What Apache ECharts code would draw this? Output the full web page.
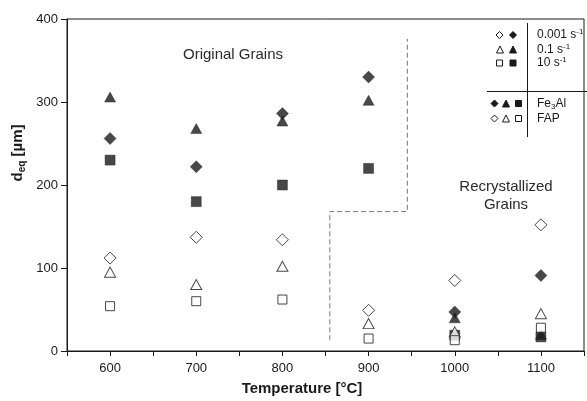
<!DOCTYPE html>
<html>
<head>
<meta charset="utf-8">
<script src="https://cdn.jsdelivr.net/npm/echarts@6/dist/echarts.min.js"></script>
<style>html,body{margin:0;padding:0;background:#fff;}#c{width:587px;height:401px;}</style>
</head>
<body>
<div id="c"></div>
<script>
// ---- data ----
const temps = [600, 700, 800, 900, 1000, 1100];
const fe3al_0001 = [256, 222, 286, 330, 47, 91];   // filled diamond
const fe3al_01   = [306, 268, 277, 302, 40, 20];   // filled triangle
const fe3al_10   = [230, 180, 200, 220, 19, 17];   // filled square
const fap_0001   = [112, 137, 134, 49, 85, 152];   // open diamond
const fap_01     = [95, 80, 102, 33, 23, 45];      // open triangle
const fap_10     = [54, 60, 62, 15, 13, 28];       // open square
const boundaryT  = [855, 855, 945, 945];
const boundaryD  = [13, 168, 168, 376];
const xTicks = [600, 700, 800, 900, 1000, 1100];
const yTicks = [0, 100, 200, 300, 400];

const FONT = 'Liberation Sans, Arial, sans-serif';
const INK = '#1a1a1a';

function pts(arr) { return temps.map((t, i) => [t, arr[i]]); }
function sc(name, data, symbol, size, filled) {
  return {
    name, type: 'scatter', data: pts(data), symbol, symbolSize: size,
    itemStyle: filled ? { color: INK, borderColor: INK, borderWidth: 0.5 }
                      : { color: '#fff', borderColor: INK, borderWidth: 1 },
    z: filled ? 3 : 4, silent: true
  };
}

// legend symbol helpers (key only)
function gDia(cx, cy, s, f) {
  return { type: 'polygon', shape: { points: [[cx, cy - s / 2], [cx + s / 2, cy], [cx, cy + s / 2], [cx - s / 2, cy]] },
    style: { fill: f ? INK : '#fff', stroke: INK, lineWidth: 1 } };
}
function gTri(cx, cy, s, f) {
  return { type: 'polygon', shape: { points: [[cx, cy - s / 2], [cx + s / 2, cy + s / 2], [cx - s / 2, cy + s / 2]] },
    style: { fill: f ? INK : '#fff', stroke: INK, lineWidth: 1 } };
}
function gSq(cx, cy, s, f) {
  return { type: 'rect', shape: { x: cx - s / 2, y: cy - s / 2, width: s, height: s },
    style: { fill: f ? INK : '#fff', stroke: INK, lineWidth: 1 } };
}
function gTxt(x, y, text, rich, extra) {
  return Object.assign({ type: 'text', x, y, style: Object.assign({ text, font: '12px ' + FONT, fill: INK,
    textVerticalAlign: 'middle', textAlign: 'left', rich: rich || {} }, extra || {}) }, {});
}
const supRich = { n: { fontSize: 12, fontFamily: FONT, fill: INK }, sup: { fontSize: 8, fontFamily: FONT, fill: INK, verticalAlign: 'top', padding: [0, 0, 6, 0] }, sub: { fontSize: 8, fontFamily: FONT, fill: INK, padding: [6, 0, 0, 0] } };

const chart = echarts.init(document.getElementById('c'), null, { renderer: 'canvas' });
chart.setOption({
  animation: false,
  backgroundColor: '#fff',
  grid: { left: 67, right: -3, top: 19, bottom: 50, show: true, borderColor: INK, borderWidth: 1, backgroundColor: 'transparent' },
  xAxis: {
    type: 'value', min: 550, max: 1150, interval: 50,
    axisLine: { lineStyle: { color: INK, width: 1 } },
    axisTick: { length: 5, lineStyle: { color: INK } },
    axisLabel: { color: INK, fontFamily: FONT, fontSize: 13, margin: 11,
      formatter: v => xTicks.indexOf(v) >= 0 ? String(v) : '' },
    splitLine: { show: false }
  },
  yAxis: {
    type: 'value', min: 0, max: 400, interval: 100,
    axisLine: { show: true, lineStyle: { color: INK, width: 1 } },
    axisTick: { show: true, length: 6, lineStyle: { color: INK } },
    axisLabel: { color: INK, fontFamily: FONT, fontSize: 13, margin: 9,
      formatter: v => yTicks.indexOf(v) >= 0 ? String(v) : '' },
    splitLine: { show: false }
  },
  series: [
    { type: 'line', data: boundaryT.map((t, i) => [t, boundaryD[i]]), symbol: 'none', silent: true,
      lineStyle: { color: '#777', width: 1, type: [5, 3] }, z: 1 },
    sc('FAP 0.001', fap_0001, 'diamond', [12, 12], false),
    sc('FAP 0.1', fap_01, 'triangle', [11, 10], false),
    sc('FAP 10', fap_10, 'rect', [9, 9], false),
    sc('Fe3Al 0.001', fe3al_0001, 'diamond', [12, 12], true),
    sc('Fe3Al 0.1', fe3al_01, 'triangle', [11, 10], true),
    sc('Fe3Al 10', fe3al_10, 'rect', [10, 10], true)
  ],
  graphic: [
    // axis titles
    { type: 'text', x: 302, y: 389, style: { text: 'Temperature [°C]', font: 'bold 15px ' + FONT, fill: INK, textAlign: 'center', textVerticalAlign: 'middle' } },
    { type: 'text', x: 18, y: 153, rotation: Math.PI / 2, style: {
        text: '{b|d}{s|eq}{b| [µm]}', textAlign: 'center', textVerticalAlign: 'middle',
        rich: { b: { fontSize: 15, fontWeight: 'bold', fontFamily: FONT, fill: INK },
                s: { fontSize: 10, fontWeight: 'bold', fontFamily: FONT, fill: INK, padding: [8, 0, 0, 0] } } } },
    // annotations
    { type: 'text', x: 233, y: 55, style: { text: 'Original Grains', font: '15px ' + FONT, fill: '#2a2a2a', textAlign: 'center', textVerticalAlign: 'middle' } },
    { type: 'text', x: 506, y: 196, style: { text: 'Recrystallized\nGrains', font: '15px ' + FONT, fill: '#2a2a2a', textAlign: 'center', textVerticalAlign: 'middle', lineHeight: 18 } },
    // legend frame
    { type: 'line', shape: { x1: 527.5, y1: 23, x2: 527.5, y2: 137 }, style: { stroke: INK, lineWidth: 1 } },
    { type: 'line', shape: { x1: 487, y1: 91.5, x2: 590, y2: 91.5 }, style: { stroke: INK, lineWidth: 1 } },
    gDia(499.5, 35, 7, false), gDia(513, 35, 7, true),
    gTri(500, 49.5, 7, false), gTri(513, 49.5, 7, true),
    gSq(499.5, 63, 6, false), gSq(513, 63, 6, true),
    gDia(494.5, 103.5, 7, true), gTri(506, 103.5, 7, true), gSq(518.5, 103.5, 6, true),
    gDia(494.5, 118.5, 7, false), gTri(506, 118.5, 7, false), gSq(518.5, 118.5, 6, false),
    gTxt(537, 35, '{n|0.001 s}{sup|-1}', supRich),
    gTxt(537, 49.5, '{n|0.1 s}{sup|-1}', supRich),
    gTxt(537, 63, '{n|10 s}{sup|-1}', supRich),
    gTxt(537, 103.5, '{n|Fe}{sub|3}{n|Al}', supRich),
    gTxt(537, 118.5, '{n|FAP}', supRich)
  ]
});
</script>
</body>
</html>
